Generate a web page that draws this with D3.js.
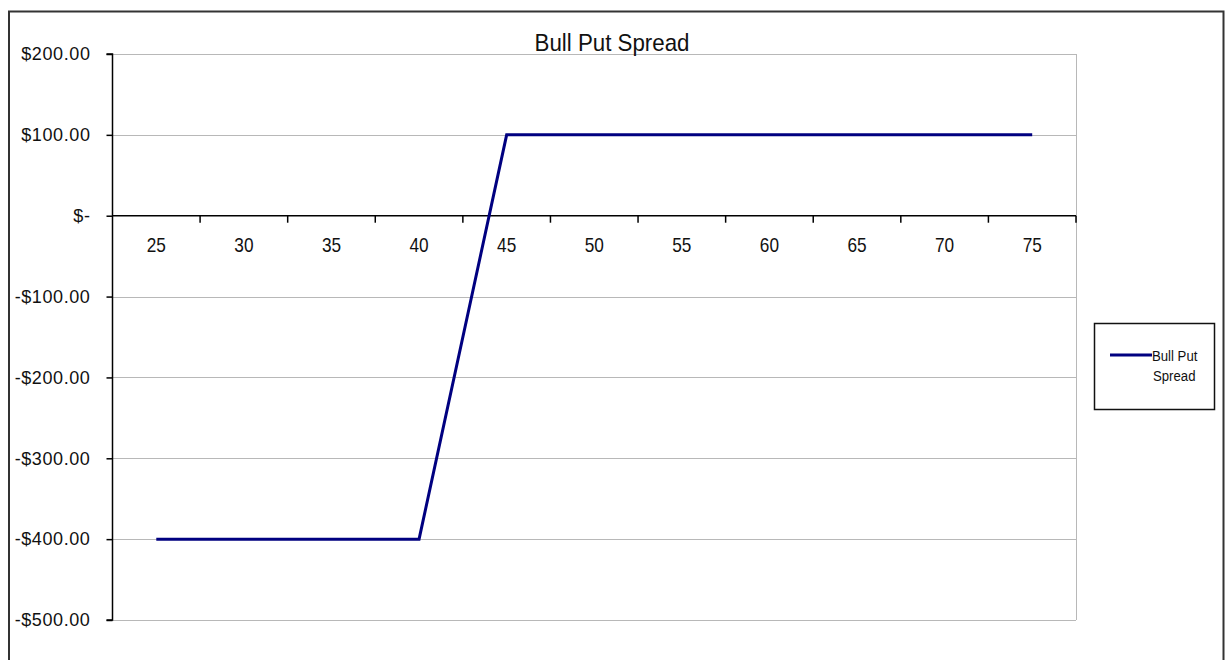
<!DOCTYPE html>
<html>
<head>
<meta charset="utf-8">
<script src="https://cdn.jsdelivr.net/npm/d3@7"></script>
<style>
  html, body { margin: 0; padding: 0; background: #fff; }
  svg { display: block; }
  text { font-family: "Liberation Sans", Arial, sans-serif; fill: #111; }
</style>
</head>
<body>
<svg id="chart" width="1225" height="660"></svg>
<script>
// Stock price at expiry and the spread's profit / loss
const strikes = [25, 30, 35, 40, 45, 50, 55, 60, 65, 70, 75];
const payoff = [-400, -400, -400, -400, 100, 100, 100, 100, 100, 100, 100];
const yTicks = [200, 100, 0, -100, -200, -300, -400, -500];
const yTickLabels = ["$200.00", "$100.00", "$-", "-$100.00", "-$200.00", "-$300.00", "-$400.00", "-$500.00"];
const seriesName = "Bull Put Spread";
const titleText = "Bull Put Spread";

const svg = d3.select("#chart");
const plot = { left: 112.5, right: 1076, top: 54, bottom: 620 };

const x = d3.scaleBand().domain(strikes).range([plot.left, plot.right]).padding(0);
const y = d3.scaleLinear().domain([-500, 200]).range([plot.bottom, plot.top]);

// outer frame
svg.append("rect")
  .attr("x", 9).attr("y", 11.5).attr("width", 1214.5).attr("height", 660)
  .attr("fill", "none").attr("stroke", "#333").attr("stroke-width", 2);

// horizontal gridlines
svg.append("g").selectAll("line")
  .data(yTicks.filter(d => d !== 0))
  .join("line")
  .attr("x1", plot.left).attr("x2", plot.right)
  .attr("y1", d => Math.round(y(d)) + 0.5).attr("y2", d => Math.round(y(d)) + 0.5)
  .attr("stroke", "#b8b8b8").attr("stroke-width", 1);

// right edge of the plot area
svg.append("line")
  .attr("x1", plot.right + 0.5).attr("x2", plot.right + 0.5)
  .attr("y1", plot.top).attr("y2", plot.bottom)
  .attr("stroke", "#b8b8b8").attr("stroke-width", 1);

// y axis
const yAxis = d3.axisLeft(y)
  .tickValues(yTicks)
  .tickSize(6)
  .tickPadding(16)
  .tickFormat((d, i) => yTickLabels[i]);
const gy = svg.append("g").attr("transform", `translate(${plot.left},0)`).call(yAxis);
gy.select(".domain").attr("stroke", "#000").attr("stroke-width", 1.5)
  .attr("d", `M-6,${y(200)}H0V${y(-500)}H-6`);
gy.selectAll(".tick line").attr("stroke", "#000").attr("stroke-width", 1.5);
gy.selectAll(".tick text")
  .attr("font-size", 18)
  .attr("letter-spacing", 0.6)
  .attr("fill", "#111")
  .attr("font-family", "Liberation Sans, Arial, sans-serif");

// x axis on the zero line, ticks between categories
const gx = svg.append("g").attr("transform", `translate(0,${y(0)})`);
gx.append("line")
  .attr("x1", plot.left).attr("x2", plot.right)
  .attr("stroke", "#000").attr("stroke-width", 1.5);
const boundaries = strikes.map(d => x(d)).concat([x(strikes[strikes.length - 1]) + x.bandwidth()]);
gx.selectAll("line.tk")
  .data(boundaries.slice(1))
  .join("line").attr("class", "tk")
  .attr("x1", d => d).attr("x2", d => d)
  .attr("y1", 0).attr("y2", 7)
  .attr("stroke", "#000").attr("stroke-width", 1.5);
gx.selectAll("text")
  .data(strikes)
  .join("text")
  .attr("transform", d => `translate(${x(d) + x.bandwidth() / 2},36) scale(0.82,1)`)
  .attr("text-anchor", "middle")
  .attr("font-size", 21)
  .text(d => d);

// payoff line
const line = d3.line()
  .x(d => x(d.k) + x.bandwidth() / 2)
  .y(d => y(d.v));
svg.append("path")
  .datum(strikes.map((k, i) => ({ k, v: payoff[i] })))
  .attr("d", line)
  .attr("fill", "none")
  .attr("stroke", "#000080")
  .attr("stroke-width", 3)
  .attr("stroke-linejoin", "miter");

// title
svg.append("text")
  .attr("transform", "translate(612,51) scale(0.93,1)")
  .attr("text-anchor", "middle")
  .attr("font-size", 24)
  .text(titleText);

// legend
const lg = svg.append("g");
lg.append("rect")
  .attr("x", 1094.5).attr("y", 323.5).attr("width", 120).attr("height", 86)
  .attr("fill", "#fff").attr("stroke", "#111").attr("stroke-width", 1.5);
lg.append("line")
  .attr("x1", 1110).attr("x2", 1152).attr("y1", 355).attr("y2", 355)
  .attr("stroke", "#000080").attr("stroke-width", 3);
const words = seriesName.split(" ");
lg.append("text")
  .attr("transform", "translate(1152,361) scale(0.85,1)")
  .attr("font-size", 15.5)
  .text(words.slice(0, 2).join(" "));
lg.append("text")
  .attr("transform", "translate(1153,381) scale(0.85,1)")
  .attr("font-size", 15.5)
  .text(words.slice(2).join(" "));
</script>
</body>
</html>
